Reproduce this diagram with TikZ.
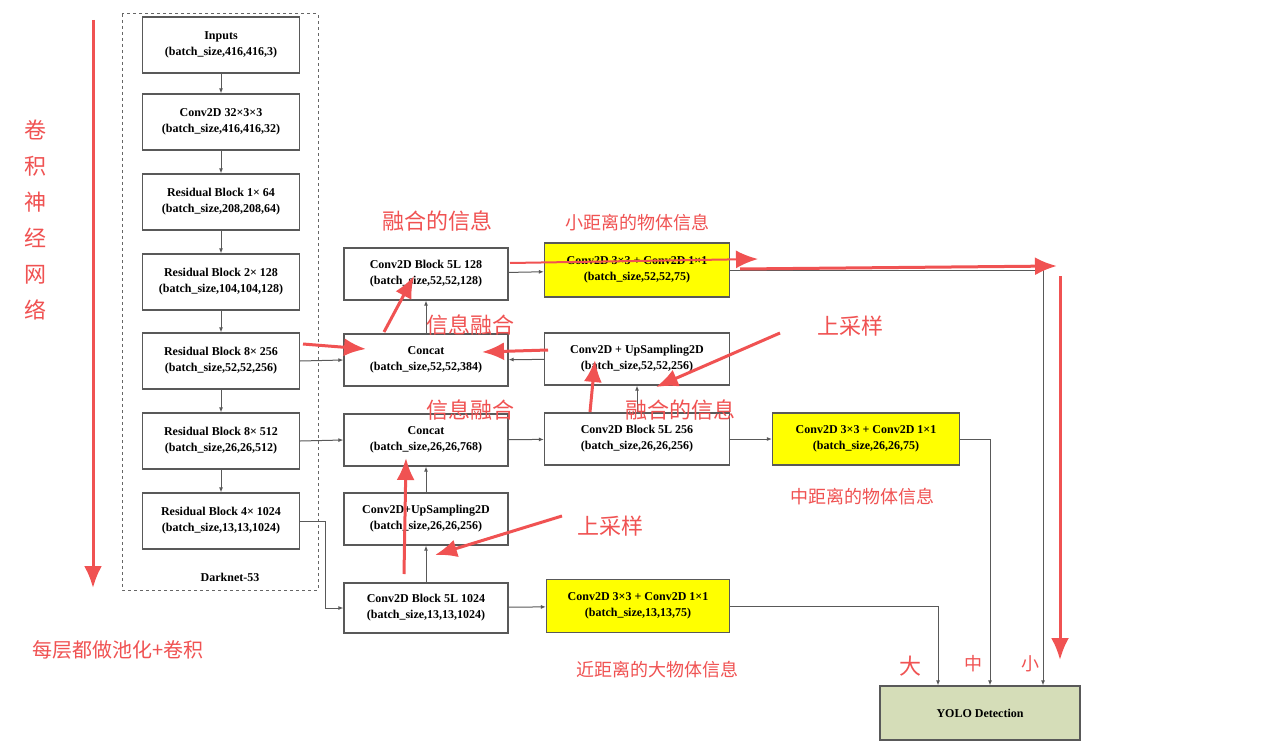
\documentclass[tikz,border=0pt]{standalone}
\usepackage{fontspec}
\setmainfont{Liberation Serif}
\newfontfamily\cjk{Noto Sans CJK SC}
\usetikzlibrary{arrows.meta}
\definecolor{ann}{HTML}{F05252}
\definecolor{yel}{HTML}{FFFF00}
\definecolor{yolo}{HTML}{D5DDB8}
\begin{document}
\begin{tikzpicture}[x=1pt,y=-1pt,
 box/.style={draw=black!65,line width=1.2pt,fill=white,font=\bfseries\fontsize{12}{16}\selectfont,align=center,inner sep=0pt},
 con/.style={draw=black!65,line width=1pt,-{Latex[length=5pt,width=4pt]}},
 red/.style={draw=ann,line width=3pt,-{Latex[length=22pt,width=18pt]}},
 lab/.style={text=ann,font=\cjk\fontsize{18}{20}\selectfont},
 big/.style={text=ann,font=\cjk\fontsize{22}{24}\selectfont}]
\useasboundingbox (0,0) rectangle (1268,754);
\fill[white] (0,0) rectangle (1268,754);
\draw[dashed,black!60,line width=1pt] (122,14) rectangle (318,590);
\node[font=\bfseries\fontsize{12}{14}\selectfont] (dn) at (230,577) {Darknet-53};
% left column
\node[box,minimum width=157pt,minimum height=56pt] (in) at (221,45) {Inputs\\(batch\_size,416,416,3)};
\node[box,minimum width=157pt,minimum height=56pt] (c1) at (221,122) {Conv2D 32×3×3\\(batch\_size,416,416,32)};
\node[box,minimum width=157pt,minimum height=56pt] (r1) at (221,202) {Residual Block 1× 64\\(batch\_size,208,208,64)};
\node[box,minimum width=157pt,minimum height=56pt] (r2) at (221,282) {Residual Block 2× 128\\(batch\_size,104,104,128)};
\node[box,minimum width=157pt,minimum height=56pt] (r3) at (221,361) {Residual Block 8× 256\\(batch\_size,52,52,256)};
\node[box,minimum width=157pt,minimum height=56pt] (r4) at (221,441) {Residual Block 8× 512\\(batch\_size,26,26,512)};
\node[box,minimum width=157pt,minimum height=56pt] (r5) at (221,521) {Residual Block 4× 1024\\(batch\_size,13,13,1024)};
% middle
\node[box,minimum width=164pt,minimum height=52pt] (b128) at (426,274) {Conv2D Block 5L 128\\(batch\_size,52,52,128)};
\node[box,minimum width=164pt,minimum height=52pt] (cc1) at (426,360) {Concat\\(batch\_size,52,52,384)};
\node[box,minimum width=164pt,minimum height=52pt] (cc2) at (426,440) {Concat\\(batch\_size,26,26,768)};
\node[box,minimum width=164pt,minimum height=52pt] (up2) at (426,519) {Conv2D+UpSampling2D\\(batch\_size,26,26,256)};
\node[box,minimum width=164pt,minimum height=50pt] (b1024) at (426,608) {Conv2D Block 5L 1024\\(batch\_size,13,13,1024)};
% third column
\node[box,fill=yel,minimum width=185pt,minimum height=54pt] (y1) at (637,270) {Conv2D 3×3 + Conv2D 1×1\\(batch\_size,52,52,75)};
\node[box,minimum width=185pt,minimum height=52pt] (up1) at (637,359) {Conv2D + UpSampling2D\\(batch\_size,52,52,256)};
\node[box,minimum width=185pt,minimum height=52pt] (b256) at (637,439) {Conv2D Block 5L 256\\(batch\_size,26,26,256)};
\node[box,fill=yel,minimum width=183pt,minimum height=53pt] (y3) at (638,606) {Conv2D 3×3 + Conv2D 1×1\\(batch\_size,13,13,75)};
\node[box,fill=yel,minimum width=187pt,minimum height=52pt] (y2) at (866,439) {Conv2D 3×3 + Conv2D 1×1\\(batch\_size,26,26,75)};
\node[box,fill=yolo,minimum width=200pt,minimum height=54pt] (yo) at (980,713) {YOLO Detection};
% connectors
\draw[con] (in) -- (c1); \draw[con] (c1) -- (r1); \draw[con] (r1) -- (r2);
\draw[con] (r2) -- (r3); \draw[con] (r3) -- (r4); \draw[con] (r4) -- (r5);
\draw[con] (r3.east) -- (cc1.west);
\draw[con] (r4.east) -- (cc2.west);
\draw[con] (r5.east) -| (325,608) -- (b1024.west);
\draw[con] (b1024) -- (up2); \draw[con] (up2) -- (cc2);
\draw[con] (cc2) -- (b256); \draw[con] (b256) -- (y2);
\draw[con] (b256) -- (up1); \draw[con] (up1) -- (cc1);
\draw[con] (cc1) -- (b128); \draw[con] (b128) -- (y1);
\draw[con] (y3.east) -| ([xshift=-42pt]yo.north);
\draw[con] (y2.east) -| ([xshift=10pt]yo.north);
\draw[con] (y1.east) -| ([xshift=63pt]yo.north);
\draw[con] (b1024) -- (y3);
% annotations
\coordinate (a1) at (93,20); \coordinate (a2) at (93,588);
\draw[red] (a1) -- (a2);
\node[big,align=center,font=\cjk\fontsize{22}{36}\selectfont] (t0) at (35,220) {卷\\积\\神\\经\\网\\络};
\node[big,font=\cjk\fontsize{20}{22}\selectfont] (t1) at (118,650) {每层都做池化+卷积};
\node[big] (t2) at (437,221) {融合的信息};
\node[lab] (t3) at (637,223) {小距离的物体信息};
\node[big] (t4) at (470,325) {信息融合};
\node[big] (t5) at (850,326) {上采样};
\node[big] (t6) at (470,410) {信息融合};
\node[big] (t7) at (680,410) {融合的信息};
\node[lab] (t8) at (862,497) {中距离的物体信息};
\node[big] (t9) at (610,526) {上采样};
\node[lab] (t10) at (657,670) {近距离的大物体信息};
\node[big] (t11) at (910,666) {大};
\node[lab] (t12) at (973,664) {中};
\node[lab] (t13) at (1030,664) {小};
\coordinate (p1) at (510,263); \coordinate (p2) at (758,259);
\coordinate (p3) at (740,269); \coordinate (p4) at (1057,266);
\coordinate (p5) at (1060,276); \coordinate (p6) at (1060,660);
\coordinate (p7) at (303,344); \coordinate (p8) at (366,349);
\coordinate (p9) at (384,332); \coordinate (p10) at (414,276);
\coordinate (p11) at (548,350); \coordinate (p12) at (482,352);
\coordinate (p13) at (590,412); \coordinate (p14) at (595,360);
\coordinate (p15) at (780,333); \coordinate (p16) at (656,387);
\coordinate (p17) at (404,574); \coordinate (p18) at (406,458);
\coordinate (p19) at (562,516); \coordinate (p20) at (435,555);
\draw[red,line width=2pt] (p1) -- (p2); \draw[red] (p3) -- (p4); \draw[red] (p5) -- (p6);
\draw[red] (p7) -- (p8); \draw[red] (p9) -- (p10); \draw[red] (p11) -- (p12);
\draw[red] (p13) -- (p14); \draw[red] (p15) -- (p16); \draw[red] (p17) -- (p18);
\draw[red] (p19) -- (p20);
\end{tikzpicture}
\end{document}
